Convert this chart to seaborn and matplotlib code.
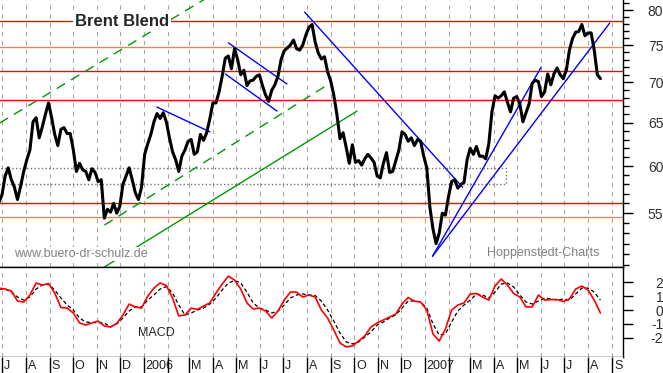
import matplotlib
matplotlib.use("Agg")
import matplotlib.pyplot as plt
import matplotlib.dates as mdates
from matplotlib.patches import Rectangle
from matplotlib.ticker import FixedLocator, NullFormatter
import pandas as pd
import seaborn as sns

sns.set_style("white")
plt.rcParams['font.family'] = ['Liberation Sans', 'DejaVu Sans']

# Brent Blend, Schlusskurse (ca. alle 4 Tage)
price = [56.1, 56.9, 58.9, 59.8, 58.5, 57.7, 56.4, 57.8, 59.4, 60.7,
         61.8, 65.1, 65.6, 63.2, 64.5, 66.0, 67.4, 65.6, 63.6, 62.3,
         64.2, 64.4, 63.7, 63.7, 61.8, 59.4, 60.3, 59.6, 59.4, 58.5,
         59.7, 59.3, 58.3, 58.5, 54.5, 55.4, 55.1, 56.0, 55.0, 55.7,
         58.0, 58.9, 59.8, 58.5, 57.1, 56.4, 57.7, 61.3, 62.5, 63.6,
         65.1, 66.1, 65.5, 66.2, 65.1, 63.2, 61.6, 60.7, 59.4, 61.1,
         61.8, 62.8, 63.0, 61.3, 61.6, 63.6, 62.9, 63.8, 65.4, 67.4,
         67.4, 68.8, 70.8, 73.2, 73.5, 71.8, 74.5, 73.0, 71.0, 71.6,
         69.6, 70.2, 70.3, 70.8, 71.0, 69.6, 68.4, 67.6, 69.0, 69.7,
         70.8, 73.0, 74.2, 74.6, 75.0, 75.7, 74.5, 74.3, 75.0, 76.4,
         77.5, 77.9, 75.4, 73.9, 73.1, 73.4, 71.4, 70.2, 68.4, 66.0,
         63.1, 63.8, 62.1, 60.3, 62.4, 60.4, 60.6, 60.1, 60.8, 61.3,
         60.9, 60.4, 58.9, 58.7, 60.3, 61.5, 59.3, 59.4, 60.6, 61.8,
         63.9, 63.6, 62.8, 63.2, 62.3, 63.0, 62.8, 61.1, 59.8, 55.6,
         53.4, 52.0, 53.0, 55.0, 54.8, 56.7, 58.3, 58.5, 57.6, 58.0,
         58.2, 60.7, 62.0, 61.3, 62.2, 61.1, 61.1, 60.8, 62.5, 66.3,
         68.3, 68.0, 68.3, 68.8, 67.5, 66.3, 68.0, 68.2, 67.3, 65.1,
         66.2, 67.3, 69.9, 70.3, 70.1, 68.2, 68.8, 71.1, 69.7, 71.1,
         71.9, 71.0, 70.5, 71.6, 74.3, 75.9, 76.8, 76.9, 77.9, 76.3,
         76.7, 76.7, 74.3, 71.0, 70.5]

macd = [1.59, 1.52, 1.38, 0.65, 0.58, 1.09, 1.96, 1.81, 1.92, 1.23,
        0.18, 0.14, -0.22, -0.94, -1.09, -0.94, -0.80, -1.16, -1.23, -0.98,
        -0.36, 0.43, 0.22, 0.14, 1.01, 1.59, 1.96, 1.78, 0.87, -0.43,
        -0.36, 0.14, 0.04, 0.29, 0.51, 1.23, 1.88, 2.46, 2.17, 1.52,
        0.51, 0.07, 0.14, -0.07, -0.58, -0.07, 0.72, 1.30, 1.30, 0.94,
        1.09, 0.94, 0.00, -0.58, -1.45, -2.39, -2.68, -2.61, -2.25, -1.88,
        -1.23, -0.94, -0.72, -0.51, -0.29, 0.43, 0.91, 0.65, 0.58, 0.00,
        -1.74, -2.25, -1.38, 0.00, 0.36, 0.51, 1.16, 1.20, 0.94, 0.72,
        1.74, 2.25, 1.81, 1.20, 0.94, 0.22, 0.22, 1.09, 0.72, 0.76,
        0.76, 0.62, 0.80, 1.52, 1.74, 1.45, 0.72, -0.22]

signal = [1.52, 1.52, 1.30, 0.94, 0.72, 0.94, 1.52, 1.81, 1.88, 1.45,
          0.87, 0.36, 0.00, -0.58, -0.87, -0.91, -0.91, -0.94, -1.23, -1.01,
          -0.58, -0.07, 0.22, 0.22, 0.72, 1.09, 1.52, 1.70, 1.23, 0.36,
          -0.36, -0.22, 0.00, 0.14, 0.43, 0.87, 1.45, 1.96, 2.14, 1.96,
          1.30, 0.51, 0.14, 0.00, -0.22, -0.07, 0.36, 0.87, 1.09, 1.16,
          1.09, 1.05, 0.65, 0.00, -0.80, -1.67, -2.32, -2.46, -2.32, -1.96,
          -1.59, -1.09, -0.87, -0.58, -0.36, 0.14, 0.65, 0.65, 0.58, 0.14,
          -1.01, -1.81, -1.74, -0.87, -0.07, 0.36, 0.72, 1.16, 1.09, 0.87,
          1.30, 1.88, 1.96, 1.67, 1.09, 0.58, 0.43, 0.65, 0.87, 0.80,
          0.72, 0.80, 0.72, 1.16, 1.59, 1.59, 1.30, 0.72]

price_dates = pd.date_range("2005-06-27", "2007-08-17", periods=len(price))
macd_dates = pd.date_range("2005-06-27", "2007-08-17", periods=len(macd))
month_starts = pd.date_range("2005-07-01", "2007-09-01", freq="MS")
month_labels = ["J", "A", "S", "O", "N", "D", "2006", "", "M", "A", "M", "J", "J",
                "A", "S", "O", "N", "D", "2007", "", "M", "A", "M", "J", "J", "A", "S"]

# Widerstands- / Unterstützungslinien
red_levels = [78.4, 71.5, 67.8, 56.0]
orange_levels = [74.7, 54.6]
box_dates = ("2005-06-01", "2007-04-17")
box_levels = (58.0, 59.8)

# Trendlinien: (Start, Wert, Ende, Wert)
green_dashed = [("2005-06-28", 64.95, "2006-03-28", 82.1),
                ("2005-11-11", 53.8, "2006-08-31", 69.9)]
green_solid = [("2005-11-11", 49.8, "2006-10-05", 66.4)]
blue_lines = [("2006-01-18", 66.9, "2006-03-28", 63.9),
              ("2006-04-21", 75.3, "2006-07-06", 69.8),
              ("2006-04-17", 71.1, "2006-06-23", 66.4),
              ("2006-07-29", 79.7, "2007-02-19", 57.7),
              ("2007-01-11", 50.8, "2007-06-01", 72.0),
              ("2007-01-11", 50.8, "2007-08-29", 78.1)]

price_ticks = [55, 60, 65, 70, 75, 80]
macd_ticks = [-2, -1, 0, 1, 2]

W, H = 663, 373
fig = plt.figure(figsize=(W / 100, H / 100), dpi=100)


def px_box(x0, y0, x1, y1):
    return [x0 / W, 1 - y1 / H, (x1 - x0) / W, (y1 - y0) / H]


ax_p = fig.add_axes(px_box(0, 0, 623, 267))
ax_m = fig.add_axes(px_box(0, 267, 623, 357))
ax_d = fig.add_axes(px_box(0, 357, 623, 373))

xlim = (pd.Timestamp("2005-06-28 10:00"), pd.Timestamp("2007-09-15 07:00"))

# Monats-Gitter
for ax in (ax_p, ax_m):
    for m in month_starts:
        ax.axvline(m, color="#a8a8a8", lw=0.8, ls=(0, (4, 4)), zorder=0)

# --- Kurs-Panel ---
for v in red_levels:
    ax_p.axhline(v, color="#ff0000", lw=1, zorder=1)
for v in orange_levels:
    ax_p.axhline(v, color="#ff8030", lw=1, zorder=1)

bx0 = mdates.date2num(pd.Timestamp(box_dates[0]))
bx1 = mdates.date2num(pd.Timestamp(box_dates[1]))
ax_p.add_patch(Rectangle((bx0, box_levels[0]), bx1 - bx0, box_levels[1] - box_levels[0],
                         fill=False, ec="#707070", ls=":", lw=1, zorder=1))

for d0, v0, d1, v1 in green_dashed:
    ax_p.plot([pd.Timestamp(d0), pd.Timestamp(d1)], [v0, v1], color="#009900",
              lw=1, ls=(0, (7, 5)), zorder=2)
for d0, v0, d1, v1 in green_solid:
    ax_p.plot([pd.Timestamp(d0), pd.Timestamp(d1)], [v0, v1], color="#009900", lw=1, zorder=2)
for d0, v0, d1, v1 in blue_lines:
    ax_p.plot([pd.Timestamp(d0), pd.Timestamp(d1)], [v0, v1], color="#0000ff", lw=1, zorder=2)

sns.lineplot(x=price_dates, y=price, ax=ax_p, color="black", linewidth=2.2,
             estimator=None, zorder=5)

ax_p.set_yscale("log")
ax_p.set_ylim(49.8, 81.5)
ax_p.set_xlim(*xlim)
ax_p.yaxis.tick_right()
ax_p.yaxis.set_minor_locator(FixedLocator(list(range(50, 82))))
ax_p.yaxis.set_minor_formatter(NullFormatter())
ax_p.set_yticks(price_ticks, labels=[str(t) for t in price_ticks], ha="right")
ax_p.tick_params(axis="y", which="major", direction="out", length=7, width=1,
                 labelsize=10, pad=22, color="black", labelcolor="#303030")
ax_p.tick_params(axis="y", which="minor", direction="out", length=4, width=1, color="black")
ax_p.tick_params(axis="x", bottom=False, labelbottom=False)
ax_p.set_xlabel("")
ax_p.set_ylabel("")

ax_p.text(75 / 623, 0.921, "Brent Blend", transform=ax_p.transAxes, fontsize=12,
          fontweight="bold", ha="left", va="center", zorder=6,
          bbox=dict(facecolor="white", edgecolor="none", pad=1.5))
ax_p.text(14 / 623, 0.049, "www.buero-dr-schulz.de", transform=ax_p.transAxes,
          fontsize=9, color="#808080", ha="left", va="center", zorder=6,
          bbox=dict(facecolor="white", edgecolor="none", pad=1))
ax_p.text(487 / 623, 0.052, "Hoppenstedt-Charts", transform=ax_p.transAxes,
          fontsize=9, color="#808080", ha="left", va="center", zorder=6)

# --- MACD-Panel ---
sns.lineplot(x=macd_dates, y=signal, ax=ax_m, color="black", linewidth=0.9,
             linestyle=(0, (3, 2)), estimator=None, zorder=3)
sns.lineplot(x=macd_dates, y=macd, ax=ax_m, color="#ff0000", linewidth=1.2,
             estimator=None, zorder=4)
ax_m.set_ylim(-3.41, 3.12)
ax_m.set_xlim(*xlim)
ax_m.yaxis.tick_right()
ax_m.set_yticks(macd_ticks, labels=[str(t) for t in macd_ticks], ha="right")
ax_m.tick_params(axis="y", direction="out", length=7, width=1, labelsize=10,
                 pad=22, color="black", labelcolor="#303030")
ax_m.tick_params(axis="x", bottom=False, labelbottom=False)
ax_m.set_xlabel("")
ax_m.set_ylabel("")
ax_m.text(138 / 623, 0.27, "MACD", transform=ax_m.transAxes, fontsize=9,
          ha="left", va="center")

# --- Datumsleiste ---
ax_d.set_xlim(*xlim)
ax_d.set_ylim(0, 1)
ax_d.vlines(month_starts, 0, 1, color="black", lw=1)
for m, lbl in zip(month_starts, month_labels):
    ax_d.text(m + pd.Timedelta(days=2.5), 0.42, lbl, fontsize=9, ha="left",
              va="center", clip_on=True, color="#202020")
ax_d.set_xticks([])
ax_d.set_yticks([])

for ax in (ax_p, ax_m, ax_d):
    for s in ax.spines.values():
        s.set_color("black")
        s.set_linewidth(1)
ax_p.spines["left"].set_visible(False)
ax_p.spines["top"].set_visible(False)
ax_m.spines["left"].set_visible(False)
for s in ("left", "top", "right", "bottom"):
    ax_d.spines[s].set_visible(False)

fig.savefig("out.png", dpi=100, facecolor="white")
